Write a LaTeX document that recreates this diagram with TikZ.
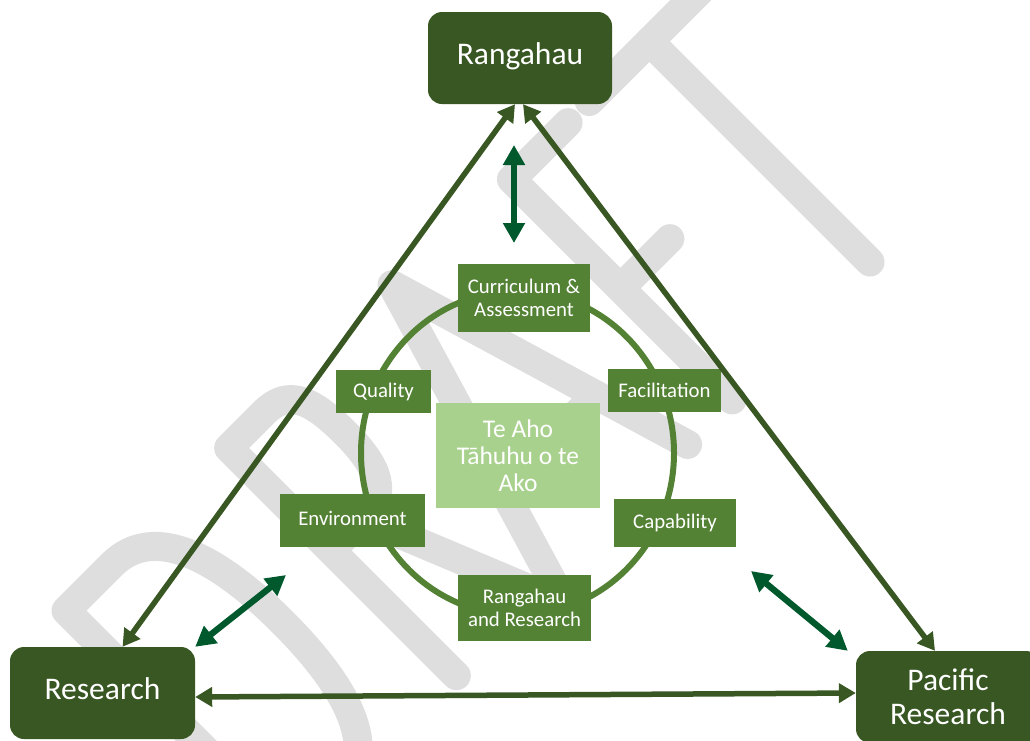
\documentclass[tikz,border=0pt]{standalone}
\usepackage{fontspec}
\setmainfont{Carlito}
\usetikzlibrary{arrows.meta}
\definecolor{darkbox}{HTML}{385723}
\definecolor{midbox}{HTML}{548235}
\definecolor{lightbox}{HTML}{A9D18E}
\definecolor{arrowgreen}{HTML}{00592D}
\definecolor{watermark}{HTML}{DEDEDE}
\begin{document}
\begin{tikzpicture}[x=1pt,y=-1pt,
  mainbox/.style={fill=darkbox, rounded corners=14pt, minimum width=184pt,
    minimum height=92pt, inner sep=0pt, text=white, align=center,
    font=\fontsize{31.5}{34}\selectfont},
  topicbox/.style={fill=midbox, inner sep=0pt, text=white, align=center,
    font=\fontsize{20.8}{23.5}\selectfont},
  corebox/.style={fill=lightbox, inner sep=0pt, text=white, align=center,
    font=\fontsize{25.5}{27}\selectfont},
  ring/.style={draw=midbox, line width=6pt},
  link/.style={draw=darkbox, line width=5.5pt,
    {Triangle[length=17pt,width=19pt]}-{Triangle[length=17pt,width=19pt]}},
  twoway/.style={draw=arrowgreen, line width=6.3pt,
    {Triangle[length=20pt,width=21pt]}-{Triangle[length=20pt,width=21pt]}},
  letter/.style={draw=watermark, line width=29pt, line cap=round, line join=round}
]
\useasboundingbox (0,0) rectangle (1030,740);
\clip (0,0) rectangle (1030,740);

% DRAFT watermark, drawn as stroked letters along a rotated baseline
\begin{scope}[shift={(870,262)}, rotate=45, x=1pt, y=1pt]
  % D
  \draw[letter] (-815,0) -- (-815,322) -- (-750,322)
    .. controls (-690,322) and (-670,250) .. (-670,161)
    .. controls (-670,70) and (-690,0) .. (-750,0) -- cycle;
  % R
  \draw[letter] (-585,0) -- (-585,322) -- (-535,322)
    .. controls (-502,322) and (-492,300) .. (-492,250)
    .. controls (-492,200) and (-505,177) .. (-540,177) -- (-585,177);
  \draw[letter] (-540,177) -- (-468,0);
  % A
  \draw[letter] (-450,0) -- (-354,322) -- (-258,0);
  \draw[letter] (-420,100) -- (-288,100);
  % F
  \draw[letter] (-115,312) -- (-195,312) -- (-195,0);
  \draw[letter] (-195,158) -- (-125,158);
  % T
  \draw[letter] (0,0) -- (0,312);
  \draw[letter] (-85,312) -- (85,312);
\end{scope}

% inner ring
\draw[ring] (517.5,453) ellipse [x radius=156.5pt, y radius=162pt];

% corner boxes
\node[mainbox] (rangahau) at (520,58) {\raisebox{8pt}{Rangahau}};
\node[mainbox, minimum width=185pt] (research) at (102.5,693) {\raisebox{9pt}{Research}};
\node[mainbox] (pacific) at (948,697)
  {\raisebox{-2pt}{Pacific}\\\raisebox{-2pt}{Research}};

% centre and topic boxes
\node[corebox, minimum width=164pt, minimum height=105pt] (core) at (518,455.5)
  {Te Aho\\Tāhuhu o te\\Ako};
\node[topicbox, minimum width=132pt, minimum height=68pt] (curric) at (524,298)
  {Curriculum \&\\Assessment};
\node[topicbox, minimum width=95pt, minimum height=43pt] (quality) at (383.5,391.5)
  {Quality};
\node[topicbox, minimum width=113pt, minimum height=43pt] (facil) at (664.5,390.5)
  {Facilitation};
\node[topicbox, minimum width=145pt, minimum height=53pt] (environ) at (352.5,520.5)
  {\raisebox{5pt}{Environment}};
\node[topicbox, minimum width=122pt, minimum height=48pt] (capab) at (675,523)
  {Capability};
\node[topicbox, minimum width=133pt, minimum height=66pt] (rr) at (524.5,608)
  {Rangahau\\and Research};

% triangle of links between the corner boxes
\draw[link] ([xshift=20pt]research.north) -- ([xshift=-5pt]rangahau.south);
\draw[link] ([xshift=3pt]rangahau.south) -- ([xshift=-13pt]pacific.north);
\draw[link] ([yshift=-4pt]research.east) -- ([yshift=4pt]pacific.west);

% two-way arrows between the ring and the corners
\coordinate (vtop) at (514,145);
\coordinate (vbot) at (514,243);
\coordinate (ll) at (286,575);
\coordinate (lr) at (751,571);
\draw[twoway] (vtop) -- (vbot);
\draw[twoway] (research.north east) -- (ll);
\draw[twoway] (lr) -- ([xshift=-8pt]pacific.north west);
\end{tikzpicture}
\end{document}
